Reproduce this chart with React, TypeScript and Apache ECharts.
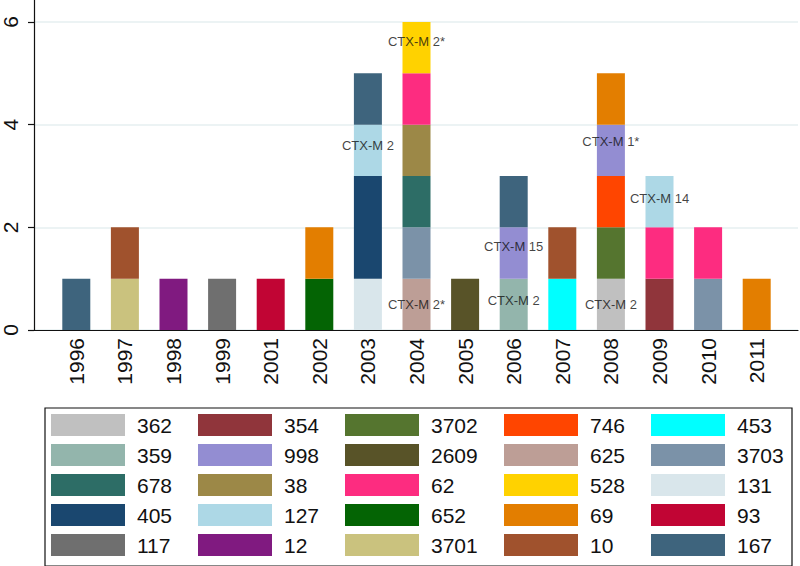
import React, { useEffect, useRef } from "react";
import * as echarts from "echarts";

const years = ["1996", "1997", "1998", "1999", "2001", "2002", "2003", "2004", "2005", "2006", "2007", "2008", "2009", "2010", "2011"];

// series (stacking order bottom -> top, legend row-major order)
const seriesNames = ["362", "354", "3702", "746", "453", "359", "998", "2609", "625", "3703", "678", "38", "62", "528", "131", "405", "127", "652", "69", "93", "117", "12", "3701", "10", "167"];
const seriesColors = ["#c0c0c0", "#90353b", "#55752f", "#ff4500", "#00ffff", "#93b5ac", "#938dd2", "#585328", "#bd9e96", "#7b92a8", "#2d6d66", "#9c8847", "#fd2c80", "#ffd200", "#d9e6eb", "#1a476f", "#add8e6", "#046404", "#e37e00", "#c10534", "#6f6f6f", "#801a80", "#cac27e", "#a0522d", "#3e647d"];

// segments of each year's bar, bottom -> top (each segment = 1 isolate)
const yearStacks: string[][] = [
  ["167"],
  ["3701", "10"],
  ["12"],
  ["117"],
  ["93"],
  ["652", "69"],
  ["131", "405", "405", "127", "167"],
  ["625", "3703", "678", "38", "62", "528"],
  ["2609"],
  ["359", "998", "167"],
  ["453", "10"],
  ["362", "3702", "746", "998", "69"],
  ["354", "62", "127"],
  ["3703", "62"],
  ["69"],
];

// text annotations: year, y-value, text
const noteYears = ["2004", "2003", "2004", "2006", "2008", "2006", "2008", "2009"];
const noteY = [5.62, 3.59, 0.49, 0.58, 0.49, 1.62, 3.67, 2.57];
const noteText = ["CTX-M 2*", "CTX-M 2", "CTX-M 2*", "CTX-M 2", "CTX-M 2", "CTX-M 15", "CTX-M 1*", "CTX-M 14"];

// legend columns (as displayed)
const legendColumns: string[][] = [
  ["362", "359", "678", "405", "117"],
  ["354", "998", "38", "127", "12"],
  ["3702", "2609", "62", "652", "3701"],
  ["746", "625", "528", "69", "10"],
  ["453", "3703", "131", "93", "167"],
];

const FONT = "'Liberation Sans', Arial, Helvetica, sans-serif";

export default function App() {
  const ref = useRef<HTMLDivElement>(null);
  useEffect(() => {
    if (!ref.current) return;
    const chart = echarts.init(ref.current, undefined, { renderer: "svg" });

    const barSeries = seriesNames.map((name, si) => ({
      name,
      type: "bar",
      stack: "total",
      xAxisIndex: 0,
      yAxisIndex: 0,
      barWidth: 28,
      itemStyle: { color: seriesColors[si] },
      emphasis: { disabled: true },
      data: yearStacks.map((segs) => segs.filter((s) => s === name).length),
    }));

    const noteSeries = {
      type: "scatter",
      xAxisIndex: 0,
      yAxisIndex: 0,
      symbolSize: 0,
      silent: true,
      z: 10,
      label: {
        show: true,
        position: "inside",
        formatter: (p: any) => p.data[2],
        color: "#111",
        fontSize: 13,
        fontFamily: FONT,
      },
      data: noteYears.map((y, i) => [y, noteY[i], noteText[i]]),
    };

    const colX = [51, 198, 345, 504, 651];
    const legends = legendColumns.map((col, ci) => ({
      show: true,
      orient: "vertical",
      left: colX[ci],
      top: 414,
      itemWidth: 74,
      itemHeight: 22,
      itemGap: 8,
      icon: "rect",
      selectedMode: false,
      padding: 0,
      data: col,
      textStyle: {
        fontSize: 21,
        lineHeight: 22,
        color: "#111",
        fontFamily: FONT,
        padding: [0, 0, 0, 7],
      },
    }));

    chart.setOption({
      animation: false,
      backgroundColor: "#ffffff",
      textStyle: { fontFamily: FONT },
      grid: [
        { left: 52, right: 19, top: 22, bottom: 236 },
        { left: 34, right: 2, top: 22, bottom: 236 },
        { left: 34, right: 2, top: 0, bottom: 236 },
      ],
      xAxis: [
        {
          type: "category",
          gridIndex: 0,
          data: years,
          axisLine: { show: false },
          axisTick: { show: false },
          axisLabel: {
            rotate: 90,
            margin: 8,
            fontSize: 21,
            color: "#111",
            fontFamily: FONT,
            interval: 0,
          },
        },
        {
          type: "value",
          gridIndex: 1,
          min: 0,
          max: 1,
          axisLine: { show: true, onZero: false, lineStyle: { color: "#111", width: 1.2 } },
          axisTick: { show: false },
          axisLabel: { show: false },
          splitLine: { show: false },
        },
        {
          type: "value",
          gridIndex: 2,
          min: 0,
          max: 1,
          show: false,
        },
      ],
      yAxis: [
        {
          type: "value",
          gridIndex: 0,
          min: 0,
          max: 6,
          interval: 2,
          show: false,
        },
        {
          type: "value",
          gridIndex: 1,
          min: 0,
          max: 6,
          interval: 2,
          axisLine: { show: false },
          axisTick: { show: true, length: 6, lineStyle: { color: "#111", width: 1.2 } },
          axisLabel: {
            rotate: 90,
            margin: 13,
            fontSize: 21,
            color: "#111",
            fontFamily: FONT,
          },
          splitLine: { show: true, lineStyle: { color: "#e6eff1", width: 1.5 } },
        },
        {
          type: "value",
          gridIndex: 2,
          min: 0,
          max: 1,
          axisLine: { show: true, lineStyle: { color: "#111", width: 1.2 } },
          axisTick: { show: false },
          axisLabel: { show: false },
          splitLine: { show: false },
        },
      ],
      legend: legends,
      graphic: [
        {
          type: "rect",
          left: 42.5,
          top: 405.5,
          shape: { x: 0, y: 0, width: 747, height: 158 },
          style: { fill: "none", stroke: "#111", lineWidth: 1.2 },
          silent: true,
        },
      ],
      series: [...barSeries, noteSeries],
    });

    return () => chart.dispose();
  }, []);

  return (
    <div
      ref={ref}
      style={{ position: "fixed", left: 0, top: 0, width: 800, height: 566, background: "#fff" }}
    />
  );
}
